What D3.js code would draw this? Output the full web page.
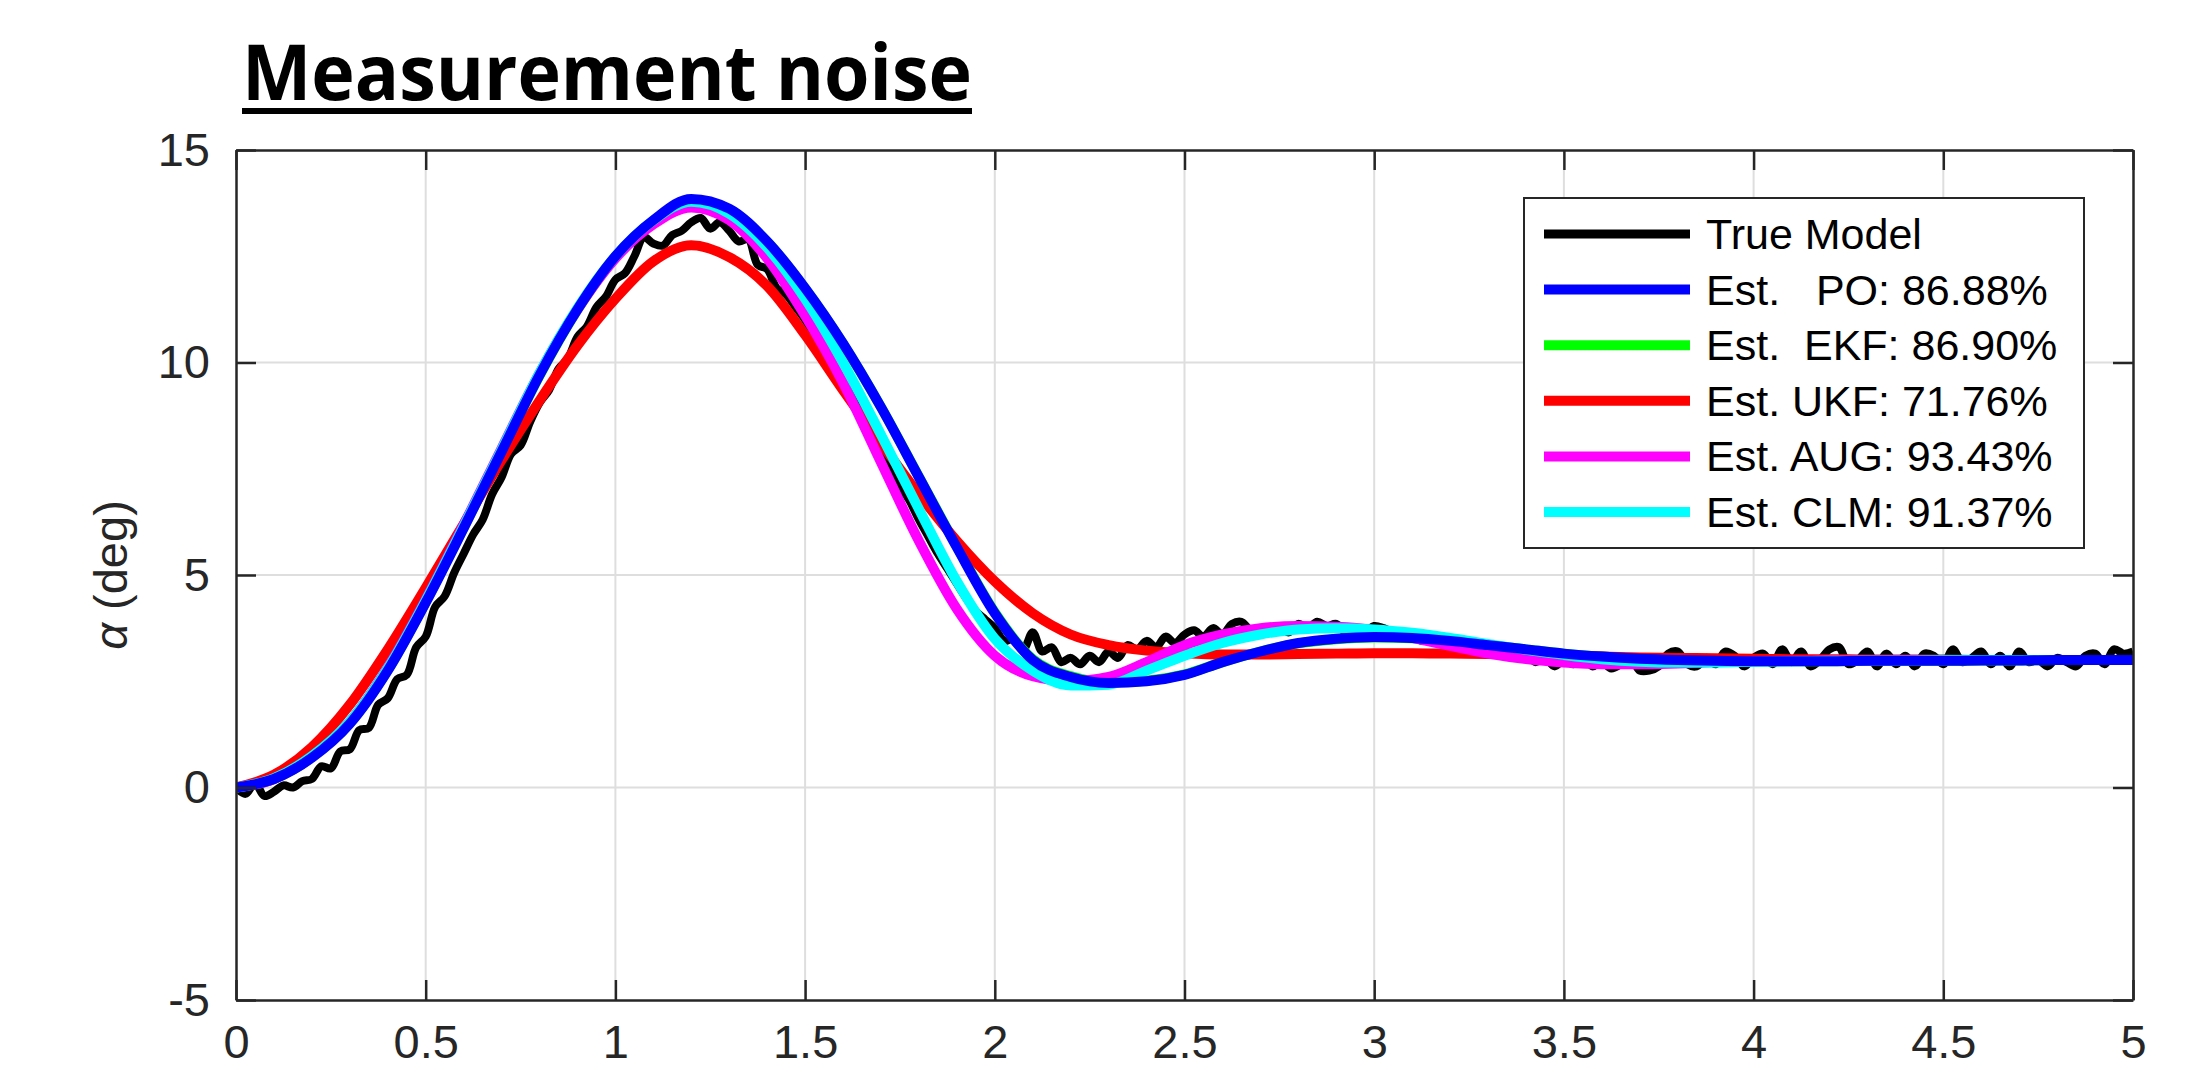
<!DOCTYPE html>
<html>
    <head>
        <title>Measurement noise</title>
        <meta charset="UTF-8">
        <script type="text/javascript" src="https://d3js.org/d3.v7.min.js"></script>
        <style type="text/css">
            body { margin: 0; background: #fff; }
            text { font-family: "Liberation Sans", Arial, Helvetica, sans-serif; }
            .legend text { white-space: pre; }
        </style>
    </head>
    <body>
        <div id="chart"></div>

        <script type="text/javascript">

            var svgW = 2203; //svg width
            var svgH = 1070; //svg height
            var margin = {left: 236, right: 70, top: 150};
            var plotH = 850;

            //time step of the smooth estimates (s) and of the noisy true model
            var dtEst = 0.1;
            var dtTrue = 0.025;

            var xTicks = [0, 0.5, 1, 1.5, 2, 2.5, 3, 3.5, 4, 4.5, 5];
            var yTicks = [-5, 0, 5, 10, 15];

            var seriesNames = ["True Model", "Est.   PO: 86.88%", "Est.  EKF: 86.90%",
                "Est. UKF: 71.76%", "Est. AUG: 93.43%", "Est. CLM: 91.37%"];
            var seriesColors = ["#000000", "#0000ff", "#00ff00", "#ff0000", "#ff00ff", "#00ffff"];

            //alpha (deg), true model with measurement noise, one value every 0.025 s
            var trueModel = [
                0.00, -0.15, 0.10, -0.20, -0.10, 0.05, 0.00, 0.15,
                0.20, 0.50, 0.45, 0.85, 0.90, 1.35, 1.40, 1.95,
                2.10, 2.55, 2.65, 3.30, 3.55, 4.25, 4.50, 5.05,
                5.50, 5.95, 6.30, 6.90, 7.30, 7.85, 8.05, 8.60,
                9.05, 9.35, 9.85, 10.10, 10.60, 10.85, 11.30, 11.55,
                11.95, 12.10, 12.50, 12.95, 12.80, 12.75, 13.00, 13.10,
                13.30, 13.40, 13.15, 13.30, 13.10, 12.85, 12.90, 12.30,
                12.20, 11.75, 11.60, 11.30, 11.00, 10.60, 10.25, 9.95,
                9.55, 9.20, 8.75, 8.40, 7.95, 7.55, 7.10, 6.75,
                6.30, 5.90, 5.50, 5.15, 4.80, 4.45, 4.15, 3.95,
                3.75, 3.45, 3.50, 3.25, 3.65, 3.20, 3.30, 2.95,
                3.05, 2.90, 3.10, 2.95, 3.20, 3.05, 3.35, 3.25,
                3.45, 3.30, 3.55, 3.40, 3.60, 3.70, 3.55, 3.75,
                3.60, 3.85, 3.90, 3.70, 3.75, 3.70, 3.75, 3.65,
                3.85, 3.75, 3.90, 3.80, 3.85, 3.65, 3.75, 3.65,
                3.80, 3.75, 3.65, 3.55, 3.60, 3.45, 3.55, 3.40,
                3.45, 3.35, 3.40, 3.25, 3.30, 3.15, 3.20, 3.05,
                3.15, 2.95, 3.05, 2.85, 3.00, 2.90, 3.10, 2.85,
                2.95, 2.80, 2.90, 3.05, 2.75, 2.75, 2.85, 3.15,
                3.20, 2.90, 2.85, 3.05, 2.90, 3.20, 3.10, 2.85,
                3.05, 3.15, 2.90, 3.25, 2.95, 3.20, 2.85, 3.00,
                3.25, 3.30, 2.90, 3.00, 3.20, 2.85, 3.15, 2.90,
                3.10, 2.85, 3.15, 3.10, 2.90, 3.25, 2.95, 3.05,
                3.20, 2.90, 3.10, 2.85, 3.20, 2.95, 3.00, 2.85,
                3.05, 2.95, 2.85, 3.10, 3.15, 2.90, 3.25, 3.15,
                3.20
            ];

            //estimates, one value every 0.1 s
            var estPO = [
                0.00, 0.20, 0.70, 1.50, 2.75, 4.35, 6.10, 7.90, 9.70, 11.25,
                12.50, 13.35, 13.85, 13.62, 12.85, 11.75, 10.45, 8.95, 7.30, 5.65,
                4.10, 3.00, 2.60, 2.46, 2.50, 2.65, 2.95, 3.20, 3.40, 3.50,
                3.54, 3.52, 3.45, 3.35, 3.25, 3.15, 3.08, 3.03, 3.00, 2.98,
                2.97, 2.97, 2.97, 2.98, 2.98, 2.98, 2.99, 2.99, 3.00, 3.00, 3.00
            ];
            var estEKF = [
                0.00, 0.20, 0.71, 1.51, 2.76, 4.36, 6.11, 7.90, 9.69, 11.24,
                12.49, 13.33, 13.82, 13.60, 12.84, 11.74, 10.44, 8.95, 7.31, 5.67,
                4.12, 3.02, 2.62, 2.47, 2.51, 2.66, 2.95, 3.20, 3.39, 3.49,
                3.53, 3.51, 3.44, 3.35, 3.25, 3.15, 3.08, 3.03, 3.00, 2.98,
                2.97, 2.97, 2.97, 2.98, 2.98, 2.98, 2.99, 2.99, 3.00, 3.00, 3.00
            ];
            var estUKF = [
                0.00, 0.30, 0.95, 1.95, 3.25, 4.70, 6.20, 7.70, 9.10, 10.40,
                11.50, 12.38, 12.76, 12.48, 11.80, 10.65, 9.35, 8.10, 6.90, 5.80,
                4.85, 4.10, 3.60, 3.35, 3.22, 3.16, 3.13, 3.13, 3.14, 3.15,
                3.16, 3.16, 3.15, 3.14, 3.12, 3.10, 3.08, 3.06, 3.05, 3.04,
                3.03, 3.02, 3.02, 3.01, 3.01, 3.01, 3.00, 3.00, 3.00, 3.00, 3.00
            ];
            var estAUG = [
                0.00, 0.20, 0.72, 1.55, 2.82, 4.42, 6.18, 7.98, 9.75, 11.25,
                12.45, 13.25, 13.65, 13.35, 12.45, 11.10, 9.52, 7.65, 5.80, 4.20,
                3.10, 2.62, 2.50, 2.60, 2.95, 3.35, 3.60, 3.75, 3.80, 3.78,
                3.70, 3.52, 3.33, 3.15, 3.02, 2.94, 2.90, 2.90, 2.92, 2.95,
                2.97, 2.98, 2.99, 2.99, 3.00, 3.00, 3.00, 3.00, 3.00, 3.00, 3.00
            ];
            var estCLM = [
                0.00, 0.22, 0.74, 1.55, 2.80, 4.40, 6.15, 7.95, 9.75, 11.28,
                12.50, 13.34, 13.78, 13.50, 12.70, 11.50, 10.00, 8.30, 6.55, 4.85,
                3.50, 2.75, 2.40, 2.42, 2.75, 3.10, 3.40, 3.60, 3.72, 3.75,
                3.72, 3.64, 3.52, 3.38, 3.24, 3.12, 3.02, 2.96, 2.94, 2.94,
                2.96, 2.97, 2.98, 2.99, 2.99, 3.00, 3.00, 3.00, 3.00, 3.00, 3.00
            ];

            ///////////////////////////////////////////////////////////////
            // Scales
            ///////////////////////////////////////////////////////////////
            var plotW = svgW - margin.left - margin.right;
            var x = d3.scaleLinear().domain([0, 5]).range([margin.left, margin.left + plotW]);
            var y = d3.scaleLinear().domain([-5, 15]).range([margin.top + plotH, margin.top]);
            //plain hyphen for negatives, as in the original figure
            var tickFmt = function (d) { return String(d); };

            var svg = d3.select("#chart").append("svg")
                    .attr("width", svgW)
                    .attr("height", svgH)
                    .style("display", "block")
                    .style("background", "#fff");

            svg.append("clipPath").attr("id", "plotClip")
                    .append("rect")
                    .attr("x", x(0)).attr("y", y(15))
                    .attr("width", x(5) - x(0)).attr("height", y(-5) - y(15));

            ///////////////////////////////////////////////////////////////
            // Grid
            ///////////////////////////////////////////////////////////////
            var grid = svg.append("g").attr("class", "grid");
            grid.selectAll("line.gx")
                    .data(xTicks.slice(1, -1))
                    .enter().append("line")
                    .attr("class", "gx")
                    .attr("x1", function (d) { return x(d); })
                    .attr("x2", function (d) { return x(d); })
                    .attr("y1", y(15)).attr("y2", y(-5))
                    .attr("stroke", "#dedede")
                    .attr("stroke-width", 2);
            grid.selectAll("line.gy")
                    .data(yTicks.slice(1, -1))
                    .enter().append("line")
                    .attr("class", "gy")
                    .attr("y1", function (d) { return y(d); })
                    .attr("y2", function (d) { return y(d); })
                    .attr("x1", x(0)).attr("x2", x(5))
                    .attr("stroke", "#dedede")
                    .attr("stroke-width", 2);

            ///////////////////////////////////////////////////////////////
            // Lines (drawn bottom to top)
            ///////////////////////////////////////////////////////////////
            var lineEst = d3.line()
                    .x(function (d, i) { return x(i * dtEst); })
                    .y(function (d) { return y(d); })
                    .curve(d3.curveMonotoneX);
            var lineTrue = d3.line()
                    .x(function (d, i) { return x(i * dtTrue); })
                    .y(function (d) { return y(d); })
                    .curve(d3.curveCatmullRom);

            var lines = svg.append("g").attr("clip-path", "url(#plotClip)");
            lines.append("path")
                    .attr("d", lineTrue(trueModel))
                    .attr("fill", "none")
                    .attr("stroke", seriesColors[0])
                    .attr("stroke-width", 8)
                    .attr("stroke-linejoin", "round");

            var estOrder = [[estEKF, 2], [estUKF, 3], [estAUG, 4], [estCLM, 5], [estPO, 1]];
            estOrder.forEach(function (s) {
                lines.append("path")
                        .attr("d", lineEst(s[0]))
                        .attr("fill", "none")
                        .attr("stroke", seriesColors[s[1]])
                        .attr("stroke-width", 10)
                        .attr("stroke-linejoin", "round");
            });

            ///////////////////////////////////////////////////////////////
            // Axes, box with inward ticks on all four sides
            ///////////////////////////////////////////////////////////////
            var axisColor = "#262626";
            function styleAxis(g) {
                g.attr("font-family", null).attr("font-size", null);
                g.select(".domain").attr("stroke", axisColor).attr("stroke-width", 2.5);
                g.selectAll(".tick line").attr("stroke", axisColor).attr("stroke-width", 2.5);
                g.selectAll(".tick text")
                        .attr("fill", axisColor)
                        .style("font-size", "47px");
            }

            svg.append("g")
                    .attr("transform", "translate(0," + y(-5) + ")")
                    .call(d3.axisBottom(x).tickValues(xTicks).tickFormat(tickFmt).tickSizeInner(-20).tickSizeOuter(0).tickPadding(25))
                    .call(styleAxis);
            svg.append("g")
                    .attr("transform", "translate(0," + y(15) + ")")
                    .call(d3.axisTop(x).tickValues(xTicks).tickFormat("").tickSizeInner(-20).tickSizeOuter(0))
                    .call(styleAxis);
            svg.append("g")
                    .attr("transform", "translate(" + x(0) + ",0)")
                    .call(d3.axisLeft(y).tickValues(yTicks).tickFormat(tickFmt).tickSizeInner(-20).tickSizeOuter(0).tickPadding(26))
                    .call(styleAxis);
            svg.append("g")
                    .attr("transform", "translate(" + x(5) + ",0)")
                    .call(d3.axisRight(y).tickValues(yTicks).tickFormat("").tickSizeInner(-20).tickSizeOuter(0))
                    .call(styleAxis);

            //y label
            var yLabel = svg.append("text")
                    .attr("transform", "translate(127," + y(5) + ") rotate(-90)")
                    .attr("text-anchor", "middle")
                    .attr("fill", axisColor)
                    .style("font-size", "47px");
            yLabel.append("tspan").style("font-style", "italic").text("\u03b1");
            yLabel.append("tspan").text(" (deg)");

            ///////////////////////////////////////////////////////////////
            // Title
            ///////////////////////////////////////////////////////////////
            svg.append("text")
                    .attr("x", 242)
                    .attr("y", 100)
                    .attr("textLength", 730)
                    .attr("lengthAdjust", "spacingAndGlyphs")
                    .style("font-family", "'Open Sans', sans-serif")
                    .style("font-weight", "bold")
                    .style("font-size", "77px")
                    .text("Measurement noise");
            svg.append("rect")
                    .attr("x", 242).attr("y", 108)
                    .attr("width", 730).attr("height", 6)
                    .attr("fill", "#000");

            ///////////////////////////////////////////////////////////////
            // Legend
            ///////////////////////////////////////////////////////////////
            var legend = svg.append("g").attr("class", "legend");
            legend.append("rect")
                    .attr("x", 1524).attr("y", 198)
                    .attr("width", 560).attr("height", 350)
                    .attr("fill", "#fff")
                    .attr("stroke", axisColor)
                    .attr("stroke-width", 2);
            var rowY = d3.scaleLinear().domain([0, 5]).range([234, 512]);
            var rows = legend.selectAll("g.row")
                    .data(seriesNames)
                    .enter().append("g")
                    .attr("class", "row")
                    .attr("transform", function (d, i) { return "translate(0," + rowY(i) + ")"; });
            rows.append("line")
                    .attr("x1", 1544).attr("x2", 1690)
                    .attr("stroke", function (d, i) { return seriesColors[i]; })
                    .attr("stroke-width", function (d, i) { return i === 0 ? 9 : 10; });
            rows.append("text")
                    .attr("x", 1706)
                    .attr("y", 15)
                    .attr("fill", "#000")
                    .style("font-size", "43px")
                    .text(function (d) { return d; });
        </script>
    </body>
</html>
